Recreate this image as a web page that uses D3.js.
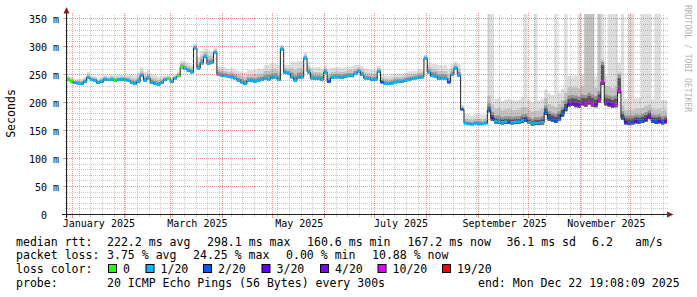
<!DOCTYPE html>
<html><head><meta charset="utf-8">
<script src="https://cdn.jsdelivr.net/npm/d3@7"></script>
<style>
html,body{margin:0;padding:0;background:#fff;}
svg{display:block;}
text{font-family:"DejaVu Sans Mono",monospace;white-space:pre;}
</style></head><body>
<svg id="chart" width="697" height="297"></svg>
<script>
// ---------------- data ----------------
const startTime = new Date(2024, 11, 28, 12, 0, 0);   // first consolidated sample
const stepDays = 2;
const endTime = new Date(2025, 11, 22, 19, 8, 9);

// median rtt (ms) per sample
const medianMs = [
 241,238,236,235,234,238,245,241,240,236,
 238,242,241,242,240,241,242,241,240,236,
 234,238,249,240,244,236,234,233,236,241,
 243,238,244,248,264,261,258,255,298,262,
 271,282,270,272,290,250,249,248,247,246,
 244,240,237,234,240,239,238,240,241,243,
 242,245,246,241,296,254,252,246,240,245,
 246,280,255,244,243,243,242,255,238,245,
 246,246,245,247,248,248,252,256,250,244,
 243,241,242,256,237,234,234,235,237,238,
 238,240,241,243,244,245,246,280,255,248,
 247,243,244,243,237,250,262,249,188,163,
 162,161,163,162,162,163,187,172,167,166,
 165,166,165,165,166,166,168,170,165,163,
 164,164,165,183,172,170,168,172,180,190,
 198,199,197,196,200,198,202,198,197,205,
 237,200,198,196,197,222,173,165,164,165,
 167,166,168,170,175,168,166,167,165,167];

// lost pings (of 20) per sample
const lossPings = [
 0,0,0.6,0.6,0.6,0.6,0.6,0.6,0.6,0.6,
 0.6,0.6,0.6,0.6,0,0.6,0.6,0.6,0.6,0.6,
 0.6,0.6,0.6,0.6,0.6,0.6,0.6,0.6,0.6,0.6,
 0,0.6,0.6,0,0,0.6,0.6,0.6,0.6,0.6,
 0.6,0.6,0.6,0.6,0.6,0.6,0.6,0.6,0.6,0.6,
 0.6,0.6,0.6,0.6,0.6,0.6,0.6,0.6,0.6,0.6,
 0.6,0.6,0.6,0.6,0.6,0.6,0.6,0.6,0.6,0.6,
 0.6,0.6,0.6,0.6,0.6,0.6,0.6,0.6,1.6,0.6,
 0.6,0.6,0.6,0.6,0.6,0.6,0.6,0.6,0.6,0.6,
 0.6,0.6,0.6,0.6,1.6,0.6,0.6,0.6,0.6,0.6,
 0.6,0.6,0.6,0.6,0.6,0.6,0.6,0.6,0.6,0.6,
 0.6,0.6,0.6,0.6,1.6,0.6,0.6,0.6,1.6,0.8,
 0.8,0.8,0.8,0.8,0.8,0.8,1.8,2.6,0.9,0.9,
 0.9,0.9,1.4,0.9,0.9,0.9,0.9,1.5,0.9,0.9,
 0.9,0.9,0.9,1.8,1.7,1.8,1.9,1.8,1.9,1.9,
 2.6,3.4,2.8,3.5,3.6,5.2,5.4,5.1,3.7,5.3,
 5.5,3.6,2.9,3.5,5.2,5.6,1.9,2.6,1.8,1.9,
 2.7,1.9,1.8,2.6,3.4,1.9,1.8,2.7,1.9,2.2];

// smoke: fastest ping below median (ms)
const smokeBelow = [
 2,2,2,2,2,2,2,2,2,2,
 2,2,2,2,2,2,2,2,2,2,
 2,2,2,2,2,2,2,2,2,2,
 2,2,2,2,2,2,2,2,2,2,
 2,2,2,2,2,2,2,2,2,2,
 2,2,2,2,2,2,2,2,2,2,
 2,2,2,2,2,2,2,2,2,2,
 2,2,2,2,2,2,2,2,2,2,
 2,2,2,2,2,2,2,2,2,2,
 2,2,2,2,2,2,2,2,2,2,
 2,2,2,2,2,2,2,2,2,2,
 2,2,2,2,2,2,2,2,1,1,
 1,1,1,1,1,1,4,4,4,4,
 4,4,3,4,4,4,4,4,3,4,
 4,4,4,5,4,4,4,4,5,5,
 5,5,5,5,5,5,5,5,5,5,
 5,5,5,5,5,5,4,4,4,4,
 4,4,4,4,4,4,4,4,4,4];

// smoke: 60th percentile above median (ms)
const smokeP60 = [
 1,1,1,1,1,1,1,1,1,1,
 1,1,1,1,1,1,1,1,1,1,
 2,2,1,2,2,2,2,1,1,1,
 1,1,1,1,1,1,2,1,1,2,
 2,1,2,2,1,1,2,1,1,1,
 1,1,2,2,1,2,2,2,2,2,
 2,2,2,2,1,1,1,2,3,3,
 2,1,1,2,2,2,2,1,2,1,
 1,1,1,1,1,1,1,1,1,1,
 1,1,1,1,1,1,1,1,1,1,
 1,1,1,1,1,1,1,1,1,2,
 2,2,2,2,2,1,1,1,1,2,
 2,2,2,2,2,2,6,6,5,5,
 5,5,6,5,5,5,6,5,5,4,
 5,5,6,7,8,7,7,8,7,8,
 9,9,10,9,9,10,10,11,9,10,
 30,9,9,9,10,22,7,7,8,7,
 7,7,7,8,7,6,7,7,6,6];

// smoke: 75th percentile above median (ms)
const smokeP75 = [
 3,3,2,3,3,3,3,3,3,3,
 3,3,2,3,3,3,3,3,3,4,
 5,5,4,5,5,5,5,4,4,3,
 2,3,2,3,4,4,4,4,3,6,
 7,5,7,6,3,5,5,5,4,5,
 5,5,6,6,5,6,6,6,6,7,
 8,7,7,8,3,4,5,8,9,9,
 8,3,5,6,6,6,6,4,7,5,
 5,5,5,5,5,5,5,4,5,5,
 5,5,5,3,4,5,4,5,5,4,
 4,4,5,4,4,5,4,2,5,7,
 7,7,7,7,7,6,4,6,3,4,
 4,4,4,5,4,4,12,12,10,11,
 10,10,11,10,10,10,11,10,10,9,
 10,10,11,12,13,12,12,13,12,14,
 15,15,16,15,15,16,16,17,15,16,
 36,15,15,15,16,28,12,12,13,12,
 12,12,12,13,12,11,12,12,11,10];

// smoke: 90th percentile above median (ms)
const smokeP90 = [
 5,5,4,5,5,5,6,5,5,5,
 5,5,4,5,5,5,5,5,6,8,
 9,9,8,9,9,9,9,8,7,5,
 4,5,4,5,7,8,8,8,5,12,
 13,9,14,12,5,9,9,9,8,9,
 9,10,11,12,10,11,12,12,11,14,
 15,14,14,15,5,8,9,16,18,17,
 16,6,10,11,12,12,11,7,13,10,
 10,10,10,9,10,10,9,7,9,10,
 10,10,9,6,8,9,8,9,9,8,
 8,8,9,8,8,9,8,4,10,13,
 13,14,13,14,14,12,7,12,5,8,
 8,8,8,9,8,8,25,25,22,24,
 22,22,24,22,21,22,24,22,22,21,
 22,22,24,25,26,25,24,26,25,28,
 30,29,31,30,30,250,250,250,30,250,
 40,30,31,30,32,32,22,22,24,22,
 22,23,22,24,22,21,22,22,21,20];

// smoke: slowest ping above median (ms)
const smokeTop = [
 8,8,7,8,9,8,10,8,8,9,
 8,8,7,8,8,9,8,8,10,14,
 15,16,14,15,16,15,16,14,12,8,
 7,8,7,8,12,13,14,13,8,20,
 22,15,24,20,8,15,16,15,14,16,
 15,17,19,20,18,19,20,21,19,24,
 26,25,24,27,8,14,15,28,32,30,
 28,10,18,19,20,21,19,12,22,18,
 17,18,17,16,17,18,16,12,16,18,
 17,18,16,10,14,15,14,16,15,14,
 13,14,15,14,13,15,14,6,18,22,
 23,24,23,25,24,20,12,20,8,17,
 17,16,17,18,17,16,250,250,40,42,
 38,40,42,40,38,40,42,250,40,38,
 250,40,42,40,45,44,250,46,45,250,
 50,48,52,250,50,250,250,250,50,250,
 250,48,250,250,250,50,250,42,250,250,
 40,42,250,250,250,38,250,250,40,38];

const yTicks = [0, 50, 100, 150, 200, 250, 300, 350];
const yTickLabels = ["0  ", "50 m", "100 m", "150 m", "200 m", "250 m", "300 m", "350 m"];
const xLabelMonths = [new Date(2025,0,1), new Date(2025,2,1), new Date(2025,4,1),
                      new Date(2025,6,1), new Date(2025,8,1), new Date(2025,10,1)];

const lossLevels = [0, 1, 2, 3, 4, 10, 19];
const lossColors = ["#26ff00", "#00b8ff", "#0059ff", "#5e00ff", "#7e00ff", "#dd00ff", "#ff0000"];
const lossLabels = ["0", "1/20", "2/20", "3/20", "4/20", "10/20", "19/20"];

const legendRtt = [[16,"median rtt:"],[107,"222.2 ms avg"],[207,"298.1 ms max"],[307,"160.6 ms min"],
                   [407.5,"167.2 ms now"],[506.5,"36.1 ms sd"],[592,"6.2"],[635,"am/s"]];
const legendLoss = [[16,"packet loss:"],[107,"3.75 % avg"],[193,"24.25 % max"],[286,"0.00 % min"],[372,"10.88 % now"]];
const legendProbe = [[16,"probe:"],[107,"20 ICMP Echo Pings (56 Bytes) every 300s"],[478,"end: Mon Dec 22 19:08:09 2025"]];
const lossBoxX = [108, 145.5, 203, 261.5, 320, 377.5, 442];

// ---------------- drawing ----------------
const svg = d3.select("#chart");
svg.append("rect").attr("width",697).attr("height",297).attr("fill","#ffffff");

const plotLeft = 66.5, plotRight = 666.5, plotTop = 14.5, plotBottom = 214.5;
const domainStart = new Date(2024, 11, 28, 9, 50, 0);
const x = d3.scaleTime().domain([domainStart, endTime]).range([plotLeft, plotRight]);
const y = d3.scaleLinear().domain([0, 358]).range([plotBottom, plotTop]);
const DAY = 864e5;

const samples = medianMs.map((m, i) => ({
  t: new Date(startTime.getTime() + i * stepDays * DAY),
  med: m, loss: lossPings[i],
  lo: m - smokeBelow[i], p60: m + smokeP60[i], p75: m + smokeP75[i], p90: m + smokeP90[i], top: m + smokeTop[i]
}));
const ext = samples.concat([Object.assign({}, samples[samples.length-1],
  {t: new Date(startTime.getTime() + samples.length * stepDays * DAY)})]);

svg.append("defs").append("clipPath").attr("id","clip")
  .append("rect").attr("x",67).attr("y",14).attr("width",600).attr("height",200.5);

const g = svg.append("g").attr("clip-path","url(#clip)");
[["top","#dedede"],["p90","#c2c2c2"],["p75","#949494"],["p60","#555555"]].forEach(([k, c]) => {
  g.append("path").datum(ext).attr("fill", c)
    .attr("d", d3.area().curve(d3.curveStepAfter)
      .x(d => x(d.t)).y0(d => y(d.lo)).y1(d => y(d[k])));
});
g.append("path").datum(ext).attr("fill","none").attr("stroke","#202020").attr("stroke-width",1)
  .attr("d", d3.line().curve(d3.curveStepAfter).x(d => x(d.t)).y(d => y(d.med)));

function lossBucket(l){ for (let k=0;k<lossLevels.length;k++) if (l <= lossLevels[k]) return k; return lossLevels.length-1; }
g.selectAll("rect.loss").data(samples).join("rect").attr("class","loss")
  .attr("x", d => x(d.t))
  .attr("width", (d, i) => x(ext[i+1].t) - x(d.t))
  .attr("y", d => y(d.med) - 1.3).attr("height", 2.6)
  .attr("fill", d => lossColors[lossBucket(d.loss)]);

// grid (drawn on top, like rrdtool)
const snap = v => Math.round(v - 0.5) + 0.5;
const minorCol = "rgba(143,143,143,0.48)", majorCol = "rgba(222,79,79,0.62)";
const grid = svg.append("g").attr("shape-rendering","crispEdges");
const yMinor = d3.range(10, 358, 10).filter(v => v % 50 !== 0);
grid.selectAll("line.ymin").data(yMinor).join("line")
  .attr("x1",64.5).attr("x2",668.5).attr("y1",d=>snap(y(d))).attr("y2",d=>snap(y(d)))
  .attr("stroke",minorCol).attr("stroke-dasharray","1,1");
const weeks = d3.timeSunday.range(domainStart, endTime);
grid.selectAll("line.xmin").data(weeks).join("line")
  .attr("x1",d=>snap(x(d))).attr("x2",d=>snap(x(d))).attr("y1",14.5).attr("y2",214.5)
  .attr("stroke",minorCol).attr("stroke-dasharray","1,1");
grid.selectAll("line.xmint").data(weeks).join("line")
  .attr("x1",d=>snap(x(d))).attr("x2",d=>snap(x(d))).attr("y1",214.5).attr("y2",216.5)
  .attr("stroke",minorCol);
grid.selectAll("line.ymaj").data(yTicks.filter(v=>v>0)).join("line")
  .attr("x1",66.5).attr("x2",668.5).attr("y1",d=>snap(y(d))).attr("y2",d=>snap(y(d)))
  .attr("stroke",majorCol).attr("stroke-dasharray","1,1");
grid.selectAll("line.ymajt").data(yTicks).join("line")
  .attr("x1",63).attr("x2",66.5).attr("y1",d=>snap(y(d))).attr("y2",d=>snap(y(d)))
  .attr("stroke",majorCol);
const months = d3.timeMonth.range(domainStart, endTime);
grid.selectAll("line.xmaj").data(months).join("line")
  .attr("x1",d=>snap(x(d))).attr("x2",d=>snap(x(d))).attr("y1",12.5).attr("y2",214.5)
  .attr("stroke",majorCol).attr("stroke-dasharray","1,1");
grid.selectAll("line.xmajt").data(months).join("line")
  .attr("x1",d=>snap(x(d))).attr("x2",d=>snap(x(d))).attr("y1",214.5).attr("y2",217.5)
  .attr("stroke",majorCol);

// axes lines + arrows
const axisCol = "#1f1f1f", arrowCol = "#801f1f";
svg.append("line").attr("x1",62).attr("x2",668).attr("y1",214.5).attr("y2",214.5).attr("stroke",axisCol);
svg.append("line").attr("x1",66.5).attr("x2",66.5).attr("y1",218).attr("y2",12).attr("stroke",axisCol);
svg.append("path").attr("d","M667,211.5L673.5,214.5L667,217.5Z").attr("fill",arrowCol);
svg.append("path").attr("d","M63.5,13.5L66.5,7L69.5,13.5Z").attr("fill",arrowCol);

// y axis labels
const yAxis = svg.append("g").attr("transform","translate(62,0)")
  .call(d3.axisLeft(y).tickValues(yTicks).tickFormat((d,i)=>yTickLabels[i]).tickSize(0).tickPadding(3));
yAxis.select(".domain").remove();
yAxis.selectAll("text").attr("font-family","DejaVu Sans Mono").attr("font-size","10px").attr("fill","#000")
  .attr("dy",null).attr("y",3.6);

// x axis labels (rrdtool centres month labels half a month after the month start)
const labelPos = xLabelMonths.map(d => new Date(d.getTime() + 15.5 * DAY));
const xAxis = svg.append("g").attr("transform","translate(0,214.5)")
  .call(d3.axisBottom(x).tickValues(labelPos).tickFormat(d3.timeFormat("%B %Y")).tickSize(0).tickPadding(5.4));
xAxis.select(".domain").remove();
xAxis.selectAll("text").attr("font-family","DejaVu Sans Mono").attr("font-size","10px").attr("fill","#000");

// vertical unit label
svg.append("text").attr("transform","translate(15,113.5) rotate(-90)").attr("text-anchor","middle")
  .attr("font-size","11.55px").attr("fill","#000").text("Seconds");

// watermark
svg.append("text").attr("transform","translate(685.3,5) rotate(90)")
  .attr("font-size","8.1px").attr("fill","#b4b4b4").text("RRDTOOL / TOBI OETIKER");

// legend
const leg = svg.append("g").attr("font-size","11.55px").attr("fill","#000");
const baselines = [245.6, 259.4, 273.1, 286.9];
[[legendRtt,0],[legendLoss,1],[legendProbe,3]].forEach(([items,row]) => {
  leg.selectAll(null).data(items).join("text")
    .attr("x", d => d[0]).attr("y", baselines[row]).text(d => d[1]);
});
leg.append("text").attr("x",16).attr("y",baselines[2]).text("loss color:");
leg.selectAll("rect.box").data(lossColors).join("rect").attr("class","box")
  .attr("x",(d,i)=>lossBoxX[i]+0.5).attr("y",264.5).attr("width",8).attr("height",8)
  .attr("fill",d=>d).attr("stroke","#000").attr("stroke-width",1);
leg.selectAll("text.ll").data(lossLabels).join("text").attr("class","ll")
  .attr("x",(d,i)=>lossBoxX[i]+15).attr("y",baselines[2]).text(d=>d);
</script>
</body></html>
